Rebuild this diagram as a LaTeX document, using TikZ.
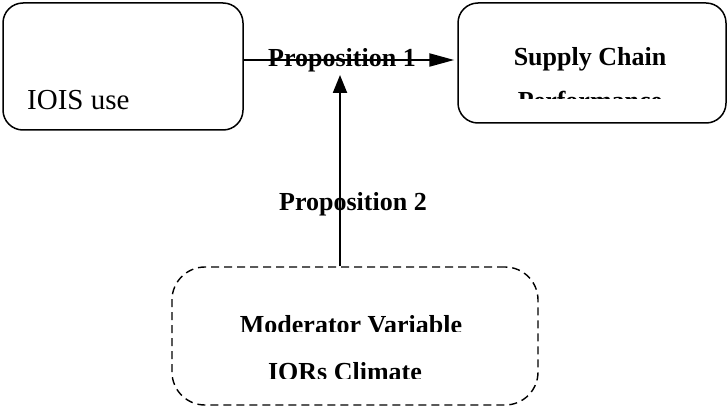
\documentclass[tikz,border=0pt]{standalone}
\usepackage{fontspec}
\setmainfont{Liberation Serif}
\usetikzlibrary{arrows.meta}
\begin{document}
\begin{tikzpicture}[x=1pt,y=-1pt,
  box/.style={draw, line width=1.5pt, rounded corners=20pt, inner sep=0pt},
  modstyle/.style={draw, dash pattern=on 8pt off 5pt, line width=1.4pt, rounded corners=33pt, inner sep=0pt},
  lab/.style={font=\fontsize{26}{30}\selectfont\bfseries, inner sep=0pt},
  plaintext/.style={font=\fontsize{29}{33}\selectfont, inner sep=0pt},
  conn/.style={line width=2.2pt}]
\useasboundingbox (0,0) rectangle (727,414);
% boxes
\node[box, minimum width=240pt, minimum height=127pt] (ioisbox) at (123,66.5) {};
\node[box, minimum width=268pt, minimum height=120pt] (scbox) at (592,63) {};
\node[modstyle, minimum width=366pt, minimum height=138pt] (modbox) at (355,336) {};
% connector reference points
\coordinate (p1line) at (342,60);
\coordinate (tip2) at (340,75);
% connectors
\draw[conn, -{Triangle[length=25pt,width=13pt]}, shorten >=3pt] (ioisbox.east |- p1line) -- (scbox.west |- p1line);
\draw[conn, -{Triangle[length=18pt,width=14pt]}] (modbox.north -| tip2) -- (tip2);
% texts
\node[plaintext, anchor=base west] (ioistext) at (27,110) {IOIS use};
\node[lab, anchor=base] (prop1) at (342,67) {Proposition 1};
\node[lab, anchor=base] (prop2) at (353,210) {Proposition 2};
\node[lab, anchor=base] (sctext) at (590,66) {Supply Chain};
\begin{scope}
  \clip (458,0) rectangle (727,99);
  \node[lab, anchor=base] (perftext) at (590,110) {Performance};
\end{scope}
\begin{scope}
  \clip (172,280) rectangle (538,331);
  \node[lab, anchor=base] (modtext) at (351,333) {Moderator Variable};
\end{scope}
\begin{scope}
  \clip (172,340) rectangle (538,378);
  \node[lab, anchor=base] (iortext) at (345,380) {IORs Climate};
\end{scope}
\end{tikzpicture}
\end{document}
